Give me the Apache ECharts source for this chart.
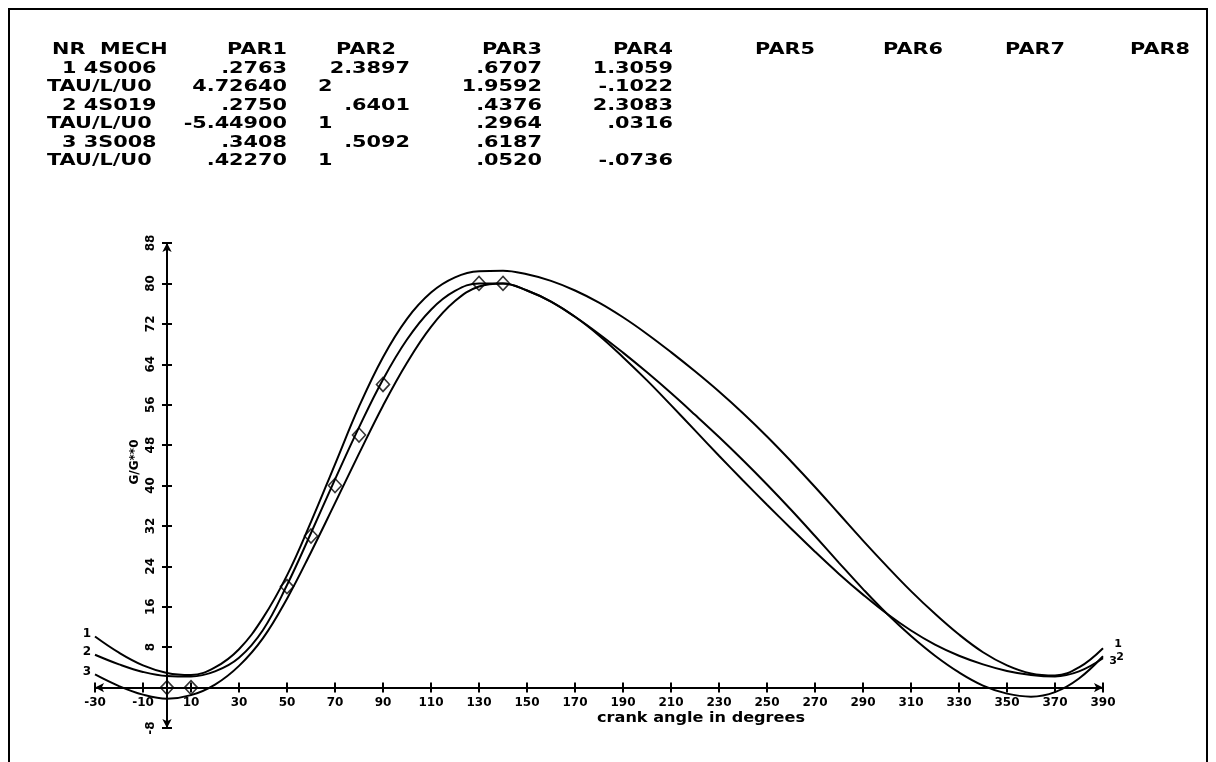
<!DOCTYPE html>
<html><head><meta charset="utf-8">
<script src="https://cdn.jsdelivr.net/npm/echarts@6/dist/echarts.min.js"></script>
<style>html,body{margin:0;padding:0;background:#fff}#c{width:1216px;height:762px}</style>
</head><body><div id="c"></div>
<script>
// ---- data ----
const angles = [-30,-20,-10,0,10,20,30,40,50,60,70,80,90,100,110,120,130,140,150,160,170,180,190,200,210,220,230,240,250,260,270,280,290,300,310,320,330,340,350,360,370,380,390];
const curve1 = [10.1,6.9,4.4,2.9,2.5,4.0,7.6,13.8,22.2,32.8,44.2,55.6,65.4,73.0,78.2,81.2,82.4,82.5,81.8,80.5,78.6,76.2,73.3,70.0,66.4,62.6,58.6,54.3,49.7,44.8,39.7,34.4,29.1,24.0,19.1,14.6,10.5,7.0,4.4,2.8,2.4,4.0,7.8];
const curve2 = [6.5,4.6,3.1,2.3,2.2,3.2,5.9,11.4,20.3,30.6,41.2,51.5,61.0,68.9,74.8,78.5,80.0,80.0,78.6,76.4,73.4,69.7,65.4,60.8,55.9,50.9,45.9,41.0,36.2,31.5,26.9,22.5,18.4,14.6,11.3,8.5,6.3,4.6,3.3,2.5,2.2,3.2,5.8];
const curve3 = [2.6,0.3,-1.4,-2.2,-1.5,0.6,4.3,9.8,17.6,26.8,36.5,46.3,55.8,64.3,71.4,76.5,79.4,80.0,78.6,76.4,73.4,70.0,66.3,62.4,58.3,54.0,49.6,45.0,40.2,35.2,30.0,24.7,19.5,14.6,10.2,6.3,3.0,0.4,-1.2,-1.8,-0.9,1.8,6.2];
const curveNames = ['1','2','3'];
const pointAngles = [0,10,50,60,70,80,90,130,140];
const pointValues = [0,0,20,30,40,50,60,80,80];
const xMin = -30, xMax = 390, xStep = 20;
const yMin = -8, yMax = 88, yStep = 8;
const xAxisTitle = 'crank angle in degrees';
const yAxisTitle = 'G/G**0';
const tableHeader = ['NR','MECH','PAR1','PAR2','PAR3','PAR4','PAR5','PAR6','PAR7','PAR8'];
const tableRows = [
  ['1 4S006','.2763','2.3897','.6707','1.3059'],
  ['TAU/L/U0','4.72640','2','1.9592','-.1022'],
  ['2 4S019','.2750','.6401','.4376','2.3083'],
  ['TAU/L/U0','-5.44900','1','.2964','.0316'],
  ['3 3S008','.3408','.5092','.6187',''],
  ['TAU/L/U0','.42270','1','.0520','-.0736']
];

// ---- layout ----
const FONT = '"DejaVu Sans"';
const tblFont = 'bold 16px ' + FONT;
const tblScale = 1.3;
const headerY = 50, rowY0 = 68.5, rowStep = 18.5;
const headerLeftX = [52, 100];
const headerRightX = [287, 396, 542, 673, 815, 943, 1065, 1190];
const colRightX = [287, 410, 542, 673];
const colIntX = [200, 318, 450, 590];

const chart = echarts.init(document.getElementById('c'), null, {renderer: 'canvas'});
const black = '#000';
const line = (d, i) => ({
  type: 'line', name: curveNames[i], data: angles.map((a, k) => [a, d[k]]),
  showSymbol: false, smooth: 0.4, xAxisIndex: 0, yAxisIndex: 0,
  lineStyle: {color: black, width: 2}, itemStyle: {color: black}, z: 3, silent: true
});
const axisCommonX = {type: 'value', min: xMin, max: xMax, interval: xStep, splitLine: {show: false}};
const axisCommonY = {type: 'value', min: yMin, max: yMax, interval: yStep, splitLine: {show: false}};
const tickStyle = {show: true, length: 5, lineStyle: {color: black, width: 2}};
const option = {
  animation: false,
  backgroundColor: '#fff',
  grid: {left: 95, right: 113, top: 243, bottom: 34},
  xAxis: [
    Object.assign({}, axisCommonX, {position: 'bottom',
      axisLine: {onZero: false, lineStyle: {color: black, width: 2}, symbol: ['arrow', 'arrow'], symbolSize: [7, 9]},
      axisTick: tickStyle,
      axisLabel: {color: black, fontFamily: FONT, fontWeight: 'bold', fontSize: 12, margin: 9}}),
    Object.assign({}, axisCommonX, {position: 'top',
      axisLine: {onZero: false, show: false}, axisTick: tickStyle, axisLabel: {show: false}})
  ],
  yAxis: [
    Object.assign({}, axisCommonY, {position: 'left',
      axisLine: {onZero: false, lineStyle: {color: black, width: 2}, symbol: ['arrow', 'arrow'], symbolSize: [7, 9]},
      axisTick: tickStyle,
      axisLabel: {color: black, fontFamily: FONT, fontWeight: 'bold', fontSize: 12, rotate: 90, margin: 10,
        formatter: v => (v === 0 ? '' : String(v))}}),
    Object.assign({}, axisCommonY, {position: 'right',
      axisLine: {onZero: false, show: false}, axisTick: tickStyle, axisLabel: {show: false}})
  ],
  series: [
    line(curve1, 0), line(curve2, 1), line(curve3, 2),
    {type: 'scatter', data: pointAngles.map((a, k) => [a, pointValues[k]]), symbol: 'diamond', symbolSize: [13, 14],
      itemStyle: {color: 'rgba(0,0,0,0)', borderColor: black, borderWidth: 1.6}, z: 4, silent: true}
  ]
};
chart.setOption(option);

// move the axes onto the zero lines (through the library's own scales)
const pZero = chart.convertToPixel({gridIndex: 0}, [0, 0]);
const pLo = chart.convertToPixel({gridIndex: 0}, [xMin, yMin]);
const pHi = chart.convertToPixel({gridIndex: 0}, [xMax, yMax]);
chart.setOption({
  xAxis: [{offset: -(pLo[1] - pZero[1])}, {offset: -(pZero[1] - pHi[1])}],
  yAxis: [{offset: -(pZero[0] - pLo[0])}, {offset: -(pHi[0] - pZero[0])}]
});

// ---- graphics: table, titles, curve labels, frame ----
const g = [];
g.push({type: 'rect', shape: {x: 9, y: 9, width: 1198, height: 780}, style: {fill: 'none', stroke: black, lineWidth: 2}, silent: true});
tableHeader.forEach((t, i) => {
  if (i < 2) g.push({type: 'text', x: headerLeftX[i], y: headerY, scaleX: tblScale, style: {text: t, font: tblFont, fill: black, textAlign: 'left', textVerticalAlign: 'middle'}});
  else g.push({type: 'text', x: headerRightX[i - 2], y: headerY, scaleX: tblScale, style: {text: t, font: tblFont, fill: black, textAlign: 'right', textVerticalAlign: 'middle'}});
});
tableRows.forEach((row, r) => {
  const y = rowY0 + r * rowStep;
  row.forEach((cell, c) => {
    if (!cell) return;
    if (c === 0) {
      const x = /^\d/.test(cell) ? 62 : 47;
      g.push({type: 'text', x, y, scaleX: tblScale, style: {text: cell, font: tblFont, fill: black, textAlign: 'left', textVerticalAlign: 'middle'}});
    } else if (cell.indexOf('.') < 0) {
      g.push({type: 'text', x: colIntX[c - 1], y, scaleX: tblScale, style: {text: cell, font: tblFont, fill: black, textAlign: 'left', textVerticalAlign: 'middle'}});
    } else {
      g.push({type: 'text', x: colRightX[c - 1], y, scaleX: tblScale, style: {text: cell, font: tblFont, fill: black, textAlign: 'right', textVerticalAlign: 'middle'}});
    }
  });
});
g.push({type: 'text', x: 701, y: 718, scaleX: 1.15, style: {text: xAxisTitle, font: 'bold 14px ' + FONT, fill: black, textAlign: 'center', textVerticalAlign: 'middle'}});
g.push({type: 'text', x: 135, y: 462, rotation: Math.PI / 2, style: {text: yAxisTitle, font: 'bold 12px ' + FONT, fill: black, textAlign: 'center', textVerticalAlign: 'middle'}});
const curves = [curve1, curve2, curve3];
const startOff = [[-8, -3], [-8, -3], [-8, -3]];
const endOff = [[15, -4], [17, -1], [10, 5]];
curves.forEach((d, i) => {
  const p0 = chart.convertToPixel({gridIndex: 0}, [angles[0], d[0]]);
  const p1 = chart.convertToPixel({gridIndex: 0}, [angles[angles.length - 1], d[d.length - 1]]);
  g.push({type: 'text', x: p0[0] + startOff[i][0], y: p0[1] + startOff[i][1], style: {text: curveNames[i], font: 'bold 12px ' + FONT, fill: black, textAlign: 'center', textVerticalAlign: 'middle'}});
  g.push({type: 'text', x: p1[0] + endOff[i][0], y: p1[1] + endOff[i][1], style: {text: curveNames[i], font: 'bold 11px ' + FONT, fill: black, textAlign: 'center', textVerticalAlign: 'middle'}});
});
chart.setOption({graphic: {elements: g}});
</script></body></html>
